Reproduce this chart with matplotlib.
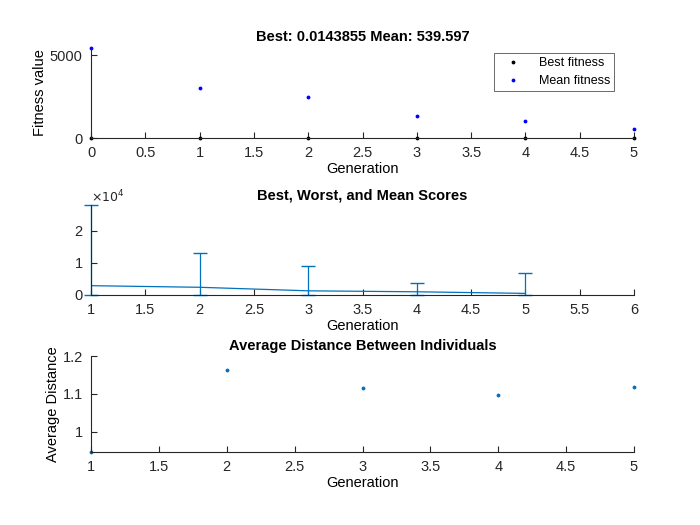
import matplotlib
matplotlib.use("Agg")
import matplotlib.pyplot as plt
import numpy as np

gen0 = [0, 1, 2, 3, 4, 5]
best_fit = [0.0143855, 0.0143855, 0.0143855, 0.0143855, 0.0143855, 0.0143855]
mean_fit = [5450, 3050, 2450, 1300, 1050, 560]

gen1 = [1, 2, 3, 4, 5]
score_mean = [2900, 2400, 1300, 1000, 500]
score_best = [0, 0, 0, 0, 0]
score_worst = [28000, 13000, 9000, 3800, 7000]

dist_x = [1, 2, 3, 4, 5]
dist_y = [0.947, 1.163, 1.116, 1.097, 1.118]

plt.rcParams['font.family'] = ['Liberation Sans', 'DejaVu Sans']
plt.rcParams['font.size'] = 10.5
fig = plt.figure(figsize=(7, 5.25), dpi=100)
W, H = 700, 525
def ax_at(l, t, r, b):
    return fig.add_axes([l / W, 1 - b / H, (r - l) / W, (b - t) / H])

def style(ax):
    for s in ['top', 'right']:
        ax.spines[s].set_visible(False)
    ax.tick_params(direction='in', length=4, labelsize=10.5, colors='#262626', pad=6)
    for s in ['left', 'bottom']:
        ax.spines[s].set_color('#262626')

ax1 = ax_at(91, 47, 634, 138)
ax1.plot(gen0, best_fit, '.', color='black', ms=3.5, label='Best fitness', clip_on=False)
ax1.plot(gen0, mean_fit, '.', color='blue', ms=3.5, label='Mean fitness', clip_on=False)
ax1.set_xlim(0, 5); ax1.set_ylim(0, 5500)
ax1.set_xticks(np.arange(0, 5.01, 0.5)); ax1.set_xticklabels(['0','0.5','1','1.5','2','2.5','3','3.5','4','4.5','5'])
ax1.set_yticks([0, 5000])
ax1.set_xlabel('Generation', labelpad=1); ax1.set_ylabel('Fitness value', labelpad=2)
ax1.set_title('Best: 0.0143855 Mean: 539.597', fontweight='bold', fontsize=10.5, pad=4)
leg = ax1.legend(loc='upper right', fontsize=9, frameon=True, fancybox=False, edgecolor='#262626',
                 borderpad=0.3, handletextpad=0.8, handlelength=2.5, bbox_to_anchor=(0.975, 1.0))
leg.get_frame().set_linewidth(0.6)
style(ax1)

ax2 = ax_at(91, 205, 634, 295)
c = '#0072BD'
ax2.plot(gen1, score_mean, color=c, lw=0.9)
m = np.array(score_mean)
eb = ax2.errorbar(gen1, score_mean, yerr=[m - np.array(score_best), np.array(score_worst) - m], fmt='none', ecolor=c, elinewidth=0.9, capsize=5)
for art in eb.lines[1] + eb.lines[2]:
    art.set_clip_on(False)
ax2.set_xlim(1, 6); ax2.set_ylim(0, 28000)
ax2.set_yticks([0, 10000, 20000]); ax2.set_yticklabels(['0', '1', '2'])
ax2.set_xticks(np.arange(1, 6.01, 0.5)); ax2.set_xticklabels(['1','1.5','2','2.5','3','3.5','4','4.5','5','5.5','6'])
ax2.text(0, 1.03, r'$\times10^4$', transform=ax2.transAxes, fontsize=9, color='#262626')
ax2.set_xlabel('Generation', labelpad=1)
ax2.set_title('Best, Worst, and Mean Scores', fontweight='bold', fontsize=10.5, pad=4)
style(ax2)

ax3 = ax_at(91, 356, 634, 452)
ax3.plot(dist_x, dist_y, '.', color=c, ms=3.5, clip_on=False)
ax3.set_xlim(1, 5); ax3.set_ylim(0.947, 1.2)
ax3.set_yticks([1, 1.1, 1.2]); ax3.set_yticklabels(['1', '1.1', '1.2'])
ax3.set_xticks(np.arange(1, 5.01, 0.5)); ax3.set_xticklabels(['1','1.5','2','2.5','3','3.5','4','4.5','5'])
ax3.set_xlabel('Generation', labelpad=1); ax3.set_ylabel('Average Distance', labelpad=2)
ax3.set_title('Average Distance Between Individuals', fontweight='bold', fontsize=10.5, pad=4)
style(ax3)

fig.savefig('out.png', dpi=100)
